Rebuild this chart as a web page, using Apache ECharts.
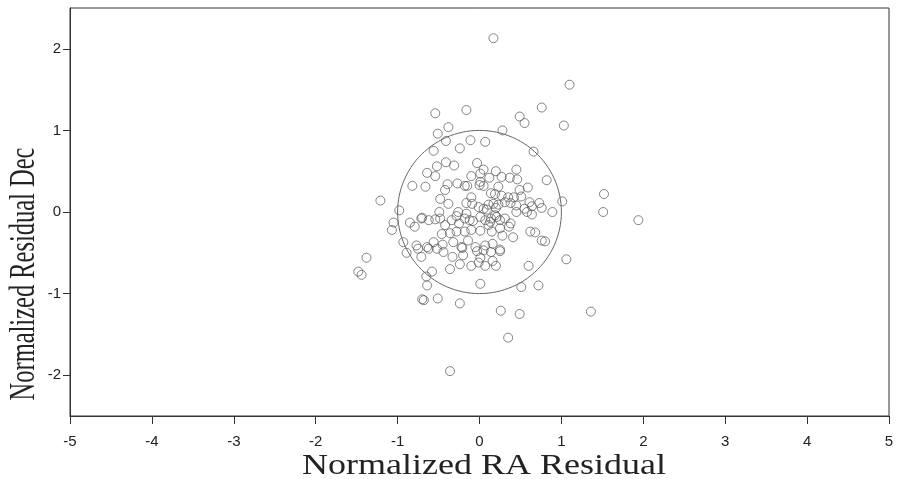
<!DOCTYPE html>
<html>
<head>
<meta charset="utf-8">
<script src="https://cdn.jsdelivr.net/npm/echarts@6/dist/echarts.min.js"></script>
<style>
  html, body { margin: 0; padding: 0; background: #fff; }
  #chart { width: 900px; height: 479px; }
</style>
</head>
<body>
<div id="chart"></div>
<script>
// Normalized residuals (RA on x, Dec on y)
const raResidual = [
  0.17, 1.10, 0.76, -0.54, -0.16, 0.49, 0.55, 1.03, -0.38, -0.51,
  -0.41, -0.11, 0.07, 0.28, -0.24, -0.56, 0.66, -0.52, -0.41, -0.31,
  -0.03, 0.05, 0.20, 0.45, -0.64, 0.82, -0.54, -0.10, 0.01, 0.12,
  0.27, 0.37, 0.46, -0.82, -0.66, -0.39, -0.42, -0.27, -0.18, -0.15,
  0.00, 0.05, 0.01, 0.23, 0.59, -1.21, -0.48, -0.10, 0.14, 0.19,
  0.27, 0.35, 0.42, 0.51, 0.61, 0.73, 1.01, -0.98, -0.38, -0.16,
  -0.09, -0.01, 0.05, 0.11, 0.17, 0.23, 0.31, 0.38, 0.45, 0.55,
  0.64, 0.76, 0.89, -1.05, -1.07, -0.85, -0.79, -0.71, -0.62, -0.54,
  -0.49, -0.42, -0.34, -0.28, -0.25, -0.18, -0.12, 0.01, 0.07, 0.14,
  0.19, 0.25, 0.31, 0.38, 0.45, 0.58, 0.64, -0.46, -0.36, -0.28,
  -0.18, -0.10, 0.01, 0.11, 0.15, 0.25, 0.36, 0.28, 0.41, 0.62,
  0.68, -0.93, -0.77, -0.64, -0.56, -0.45, -0.32, -0.22, -0.14, -0.05,
  0.07, 0.16, 0.25, 0.76, 0.80, 1.52, 1.51, 1.94, -0.89, -0.75,
  -0.62, -0.52, -0.44, -0.71, -0.33, -0.21, -0.20, -0.03, 0.05, 0.14,
  0.25, 0.01, -0.36, -0.24, -0.10, -0.01, 0.07, 0.16, 0.20, 0.60,
  1.06, -0.58, -0.65, -0.64, 0.01, 0.51, 0.72, -0.70, -0.68, -0.51,
  -0.24, 0.26, 0.49, 1.36, -1.38, 0.35, -0.36, -1.48, -1.44,
  -0.26, -0.16, 0.09, 0.20, 0.49, -0.08, 0.13, 0.21, -0.70, -0.48
];
const decResidual = [
  2.13, 1.56, 1.28, 1.21, 1.25, 1.17, 1.09, 1.06, 1.04, 0.96,
  0.87, 0.88, 0.86, 1.00, 0.78, 0.75, 0.74, 0.56, 0.61, 0.57,
  0.60, 0.52, 0.50, 0.52, 0.48, 0.39, 0.44, 0.44, 0.47, 0.42,
  0.43, 0.42, 0.40, 0.32, 0.31, 0.34, 0.27, 0.35, 0.32, 0.32,
  0.33, 0.32, 0.37, 0.31, 0.30, 0.14, 0.16, 0.18, 0.23, 0.22,
  0.20, 0.18, 0.18, 0.19, 0.12, 0.11, 0.13, 0.02, 0.10, 0.11,
  0.10, 0.06, 0.04, 0.09, 0.10, 0.09, 0.12, 0.11, 0.08, 0.04,
  0.07, 0.05, 0.00, -0.13, -0.22, -0.13, -0.18, -0.08, -0.10, -0.09,
  0.00, -0.16, -0.10, -0.05, -0.14, -0.08, -0.10, -0.06, -0.10, -0.08,
  -0.04, -0.10, -0.08, -0.14, 0.00, 0.00, -0.03, -0.27, -0.26, -0.24,
  -0.24, -0.22, -0.23, -0.16, -0.24, -0.20, -0.18, -0.29, -0.31, -0.24,
  -0.25, -0.37, -0.41, -0.43, -0.37, -0.40, -0.37, -0.43, -0.35, -0.43,
  -0.41, -0.39, -0.46, -0.35, -0.36, 0.22, 0.00, -0.10, -0.50, -0.45,
  -0.45, -0.45, -0.49, -0.55, -0.55, -0.44, -0.53, -0.48, -0.47, -0.49,
  -0.48, -0.56, -0.70, -0.64, -0.66, -0.62, -0.66, -0.60, -0.66, -0.66,
  -0.58, -0.73, -0.79, -0.90, -0.88, -0.92, -0.90, -1.07, -1.08, -1.06,
  -1.12, -1.21, -1.25, -1.22, -0.56, -1.54, -1.95, -0.73, -0.77,
  0.00, -0.02, 0.03, 0.05, 0.27, -0.11, -0.12, -0.06, -0.07, -0.08
];
const xTicks = [-5, 5, 1];
const yRange = [-2.5, 2.5];
const yTicks = [-2, -1, 0, 1, 2];
const circleRadius = 1;

const points = raResidual.map((x, i) => [x, decResidual[i]]);
const circle = [];
for (let a = 0; a <= 360; a += 3) {
  const t = a * Math.PI / 180;
  circle.push([circleRadius * Math.cos(t), circleRadius * Math.sin(t)]);
}

const chart = echarts.init(document.getElementById('chart'));
chart.setOption({
  animation: false,
  grid: {
    left: 70, right: 11, top: 8, bottom: 63,
    outerBoundsMode: 'none',
    show: true, borderColor: '#333', borderWidth: 1
  },
  graphic: [
    {
      type: 'text',
      x: 484, y: 466,
      scaleX: 1.2,
      style: {
        text: 'Normalized RA Residual',
        font: '30px "Liberation Serif"',
        fill: '#222',
        align: 'center',
        verticalAlign: 'middle'
      }
    },
    {
      type: 'text',
      x: 25, y: 274,
      rotation: Math.PI / 2,
      scaleX: 0.68,
      style: {
        text: 'Normalized Residual Dec',
        font: '36px "Liberation Serif"',
        fill: '#222',
        align: 'center',
        verticalAlign: 'middle'
      }
    }
  ],
  xAxis: {
    type: 'value',
    min: xTicks[0], max: xTicks[1], interval: xTicks[2],
    axisLine: { onZero: false, lineStyle: { color: '#333', width: 1 } },
    axisTick: { show: true, length: 8, lineStyle: { color: '#333' } },
    axisLabel: { fontFamily: 'Liberation Sans', fontSize: 15, color: '#222', margin: 18 },
    splitLine: { show: false }
  },
  yAxis: {
    type: 'value',
    min: yRange[0], max: yRange[1],
    axisLine: { onZero: false, lineStyle: { color: '#333', width: 1 } },
    axisTick: { show: true, length: 7, lineStyle: { color: '#333' },
      customValues: yTicks },
    axisLabel: { fontFamily: 'Liberation Sans', fontSize: 15, color: '#222', margin: 9,
      customValues: yTicks },
    splitLine: { show: false }
  },
  series: [
    {
      type: 'line',
      data: circle,
      showSymbol: false,
      smooth: false,
      silent: true,
      lineStyle: { color: '#666', width: 1 }
    },
    {
      type: 'scatter',
      data: points,
      symbol: 'circle',
      symbolSize: 9,
      itemStyle: { color: 'rgba(255,255,255,0)', borderColor: '#555', borderWidth: 0.9 }
    }
  ]
});
</script>
</body>
</html>
